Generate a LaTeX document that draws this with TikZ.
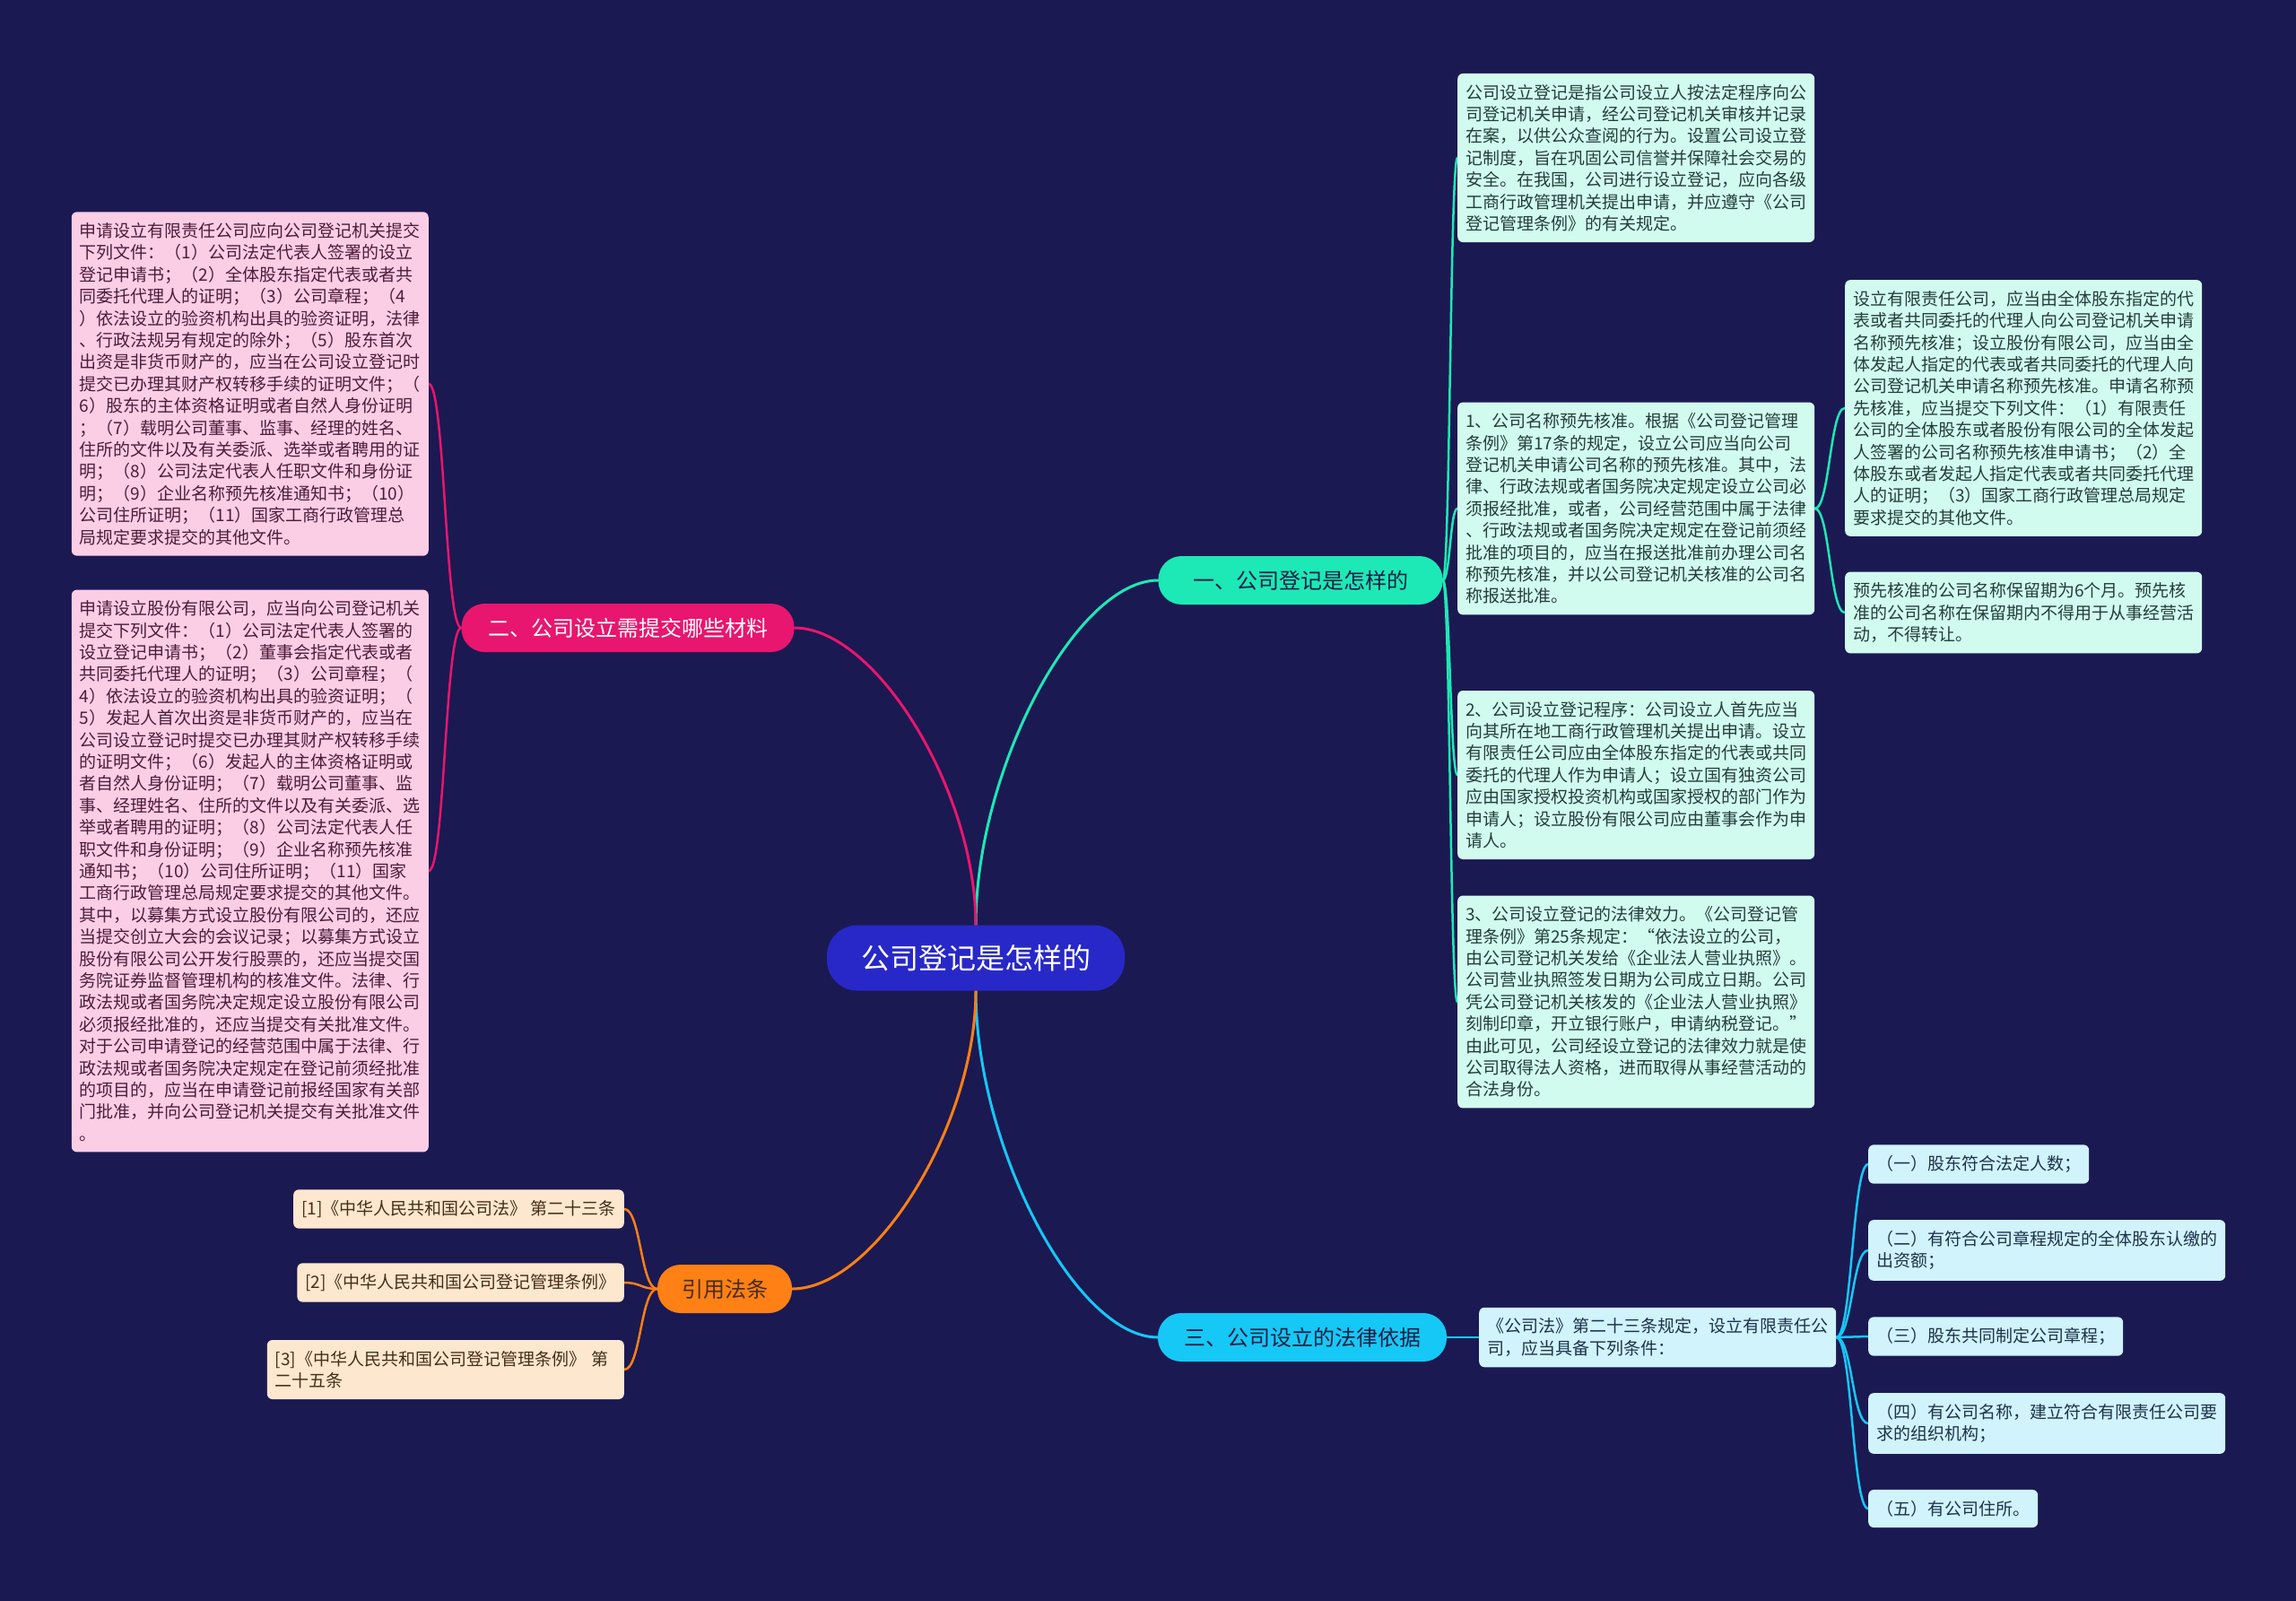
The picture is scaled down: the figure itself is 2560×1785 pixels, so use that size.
\documentclass[tikz,border=0pt]{standalone}
\usepackage{fontspec}
\usetikzlibrary{calc}
\newfontfamily\cjk{Noto Sans CJK SC}

\definecolor{bgnavy}{RGB}{27,25,82}
\definecolor{rootblue}{RGB}{40,40,200}
\definecolor{tealmain}{RGB}{29,233,182}
\definecolor{rosemain}{RGB}{232,22,110}
\definecolor{cyanmain}{RGB}{22,200,245}
\definecolor{orangemain}{RGB}{255,128,20}
\definecolor{tealleaf}{RGB}{210,251,240}
\definecolor{roseleaf}{RGB}{252,206,230}
\definecolor{cyanleaf}{RGB}{208,243,252}
\definecolor{orangeleaf}{RGB}{253,231,207}
\definecolor{tealink}{RGB}{36,62,58}
\definecolor{roseink}{RGB}{78,28,58}
\definecolor{cyanink}{RGB}{30,50,75}
\definecolor{orangeink}{RGB}{72,45,25}
\definecolor{darkink}{RGB}{25,30,70}

\pgfdeclarelayer{bg}
\pgfdeclarelayer{edges}
\pgfsetlayers{bg,edges,main}

\tikzset{
  root/.style={fill=rootblue, text=white, rounded corners=34pt, minimum width=332pt, minimum height=73pt, font=\cjk\fontsize{32}{38}\selectfont},
  topic/.style={rounded corners=26pt, minimum height=54pt, font=\cjk\fontsize{24}{29}\selectfont},
  leaf/.style={rounded corners=6pt, inner xsep=9pt, inner ysep=12pt, align=left, font=\cjk\fontsize{19}{24.4}\selectfont},
  wide/.style={text width=380pt},
  trunk/.style={line width=3pt, line cap=round, to path={let \p1=(\tikztostart), \p2=(\tikztotarget) in .. controls ({\x1},{\y2+0.55*(\y1-\y2)}) and ({\x1+0.55*(\x2-\x1)},{\y2}) .. (\tikztotarget)}},
  twig/.style={line width=2.5pt, line cap=round, to path={let \p1=(\tikztostart), \p2=(\tikztotarget) in .. controls ({(\x1+\x2)/2},{\y1}) and ({(\x1+\x2)/2},{\y2}) .. (\tikztotarget)}}
}

\begin{document}
\begin{tikzpicture}[x=1pt,y=-1pt]
  \begin{pgfonlayer}{bg}
    \fill[bgnavy] (0,0) rectangle (2560,1785);
  \end{pgfonlayer}
  \useasboundingbox (0,0) rectangle (2560,1785);

  % 中心与主题
  \node[root] (root) at (1088,1068) {公司登记是怎样的};
  \node[topic, fill=tealmain, text=darkink, minimum width=317pt] (t1) at (1450,647) {一、公司登记是怎样的};
  \node[topic, fill=rosemain, text=white, minimum width=371pt] (t2) at (700,700) {二、公司设立需提交哪些材料};
  \node[topic, fill=cyanmain, text=darkink, minimum width=322pt] (t3) at (1452,1491) {三、公司设立的法律依据};
  \node[topic, fill=orangemain, text=orangeink, minimum width=150pt] (t4) at (808,1437) {引用法条};

  % 一、公司登记是怎样的
  \node[leaf, wide, fill=tealleaf, text=tealink, anchor=west] (intro) at (1625,176) {公司设立登记是指公司设立人按法定程序向公\\司登记机关申请，经公司登记机关审核并记录\\在案，以供公众查阅的行为。设置公司设立登\\记制度，旨在巩固公司信誉并保障社会交易的\\安全。在我国，公司进行设立登记，应向各级\\工商行政管理机关提出申请，并应遵守《公司\\登记管理条例》的有关规定。};
  \node[leaf, wide, fill=tealleaf, text=tealink, anchor=west] (name) at (1625,567) {1、公司名称预先核准。根据《公司登记管理\\条例》第17条的规定，设立公司应当向公司\\登记机关申请公司名称的预先核准。其中，法\\律、行政法规或者国务院决定规定设立公司必\\须报经批准，或者，公司经营范围中属于法律\\、行政法规或者国务院决定规定在登记前须经\\批准的项目的，应当在报送批准前办理公司名\\称预先核准，并以公司登记机关核准的公司名\\称报送批准。};
  \node[leaf, wide, fill=tealleaf, text=tealink, anchor=west] (nameA) at (2057,455) {设立有限责任公司，应当由全体股东指定的代\\表或者共同委托的代理人向公司登记机关申请\\名称预先核准；设立股份有限公司，应当由全\\体发起人指定的代表或者共同委托的代理人向\\公司登记机关申请名称预先核准。申请名称预\\先核准，应当提交下列文件：（1）有限责任\\公司的全体股东或者股份有限公司的全体发起\\人签署的公司名称预先核准申请书；（2）全\\体股东或者发起人指定代表或者共同委托代理\\人的证明；（3）国家工商行政管理总局规定\\要求提交的其他文件。};
  \node[leaf, wide, fill=tealleaf, text=tealink, anchor=west] (nameB) at (2057,683) {预先核准的公司名称保留期为6个月。预先核\\准的公司名称在保留期内不得用于从事经营活\\动，不得转让。};
  \node[leaf, wide, fill=tealleaf, text=tealink, anchor=west] (proc) at (1625,864) {2、公司设立登记程序：公司设立人首先应当\\向其所在地工商行政管理机关提出申请。设立\\有限责任公司应由全体股东指定的代表或共同\\委托的代理人作为申请人；设立国有独资公司\\应由国家授权投资机构或国家授权的部门作为\\申请人；设立股份有限公司应由董事会作为申\\请人。};
  \node[leaf, wide, fill=tealleaf, text=tealink, anchor=west] (effect) at (1625,1117) {3、公司设立登记的法律效力。《公司登记管\\理条例》第25条规定：“依法设立的公司，\\由公司登记机关发给《企业法人营业执照》。\\公司营业执照签发日期为公司成立日期。公司\\凭公司登记机关核发的《企业法人营业执照》\\刻制印章，开立银行账户，申请纳税登记。”\\由此可见，公司经设立登记的法律效力就是使\\公司取得法人资格，进而取得从事经营活动的\\合法身份。};

  % 二、公司设立需提交哪些材料
  \node[leaf, wide, fill=roseleaf, text=roseink, anchor=east] (llc) at (478,428) {申请设立有限责任公司应向公司登记机关提交\\下列文件：（1）公司法定代表人签署的设立\\登记申请书；（2）全体股东指定代表或者共\\同委托代理人的证明；（3）公司章程；（4\\）依法设立的验资机构出具的验资证明，法律\\、行政法规另有规定的除外；（5）股东首次\\出资是非货币财产的，应当在公司设立登记时\\提交已办理其财产权转移手续的证明文件；（\\6）股东的主体资格证明或者自然人身份证明\\；（7）载明公司董事、监事、经理的姓名、\\住所的文件以及有关委派、选举或者聘用的证\\明；（8）公司法定代表人任职文件和身份证\\明；（9）企业名称预先核准通知书；（10）\\公司住所证明；（11）国家工商行政管理总\\局规定要求提交的其他文件。};
  \node[leaf, wide, fill=roseleaf, text=roseink, anchor=east] (corp) at (478,971) {申请设立股份有限公司，应当向公司登记机关\\提交下列文件：（1）公司法定代表人签署的\\设立登记申请书；（2）董事会指定代表或者\\共同委托代理人的证明；（3）公司章程；（\\4）依法设立的验资机构出具的验资证明；（\\5）发起人首次出资是非货币财产的，应当在\\公司设立登记时提交已办理其财产权转移手续\\的证明文件；（6）发起人的主体资格证明或\\者自然人身份证明；（7）载明公司董事、监\\事、经理姓名、住所的文件以及有关委派、选\\举或者聘用的证明；（8）公司法定代表人任\\职文件和身份证明；（9）企业名称预先核准\\通知书；（10）公司住所证明；（11）国家\\工商行政管理总局规定要求提交的其他文件。\\其中，以募集方式设立股份有限公司的，还应\\当提交创立大会的会议记录；以募集方式设立\\股份有限公司公开发行股票的，还应当提交国\\务院证券监督管理机构的核准文件。法律、行\\政法规或者国务院决定规定设立股份有限公司\\必须报经批准的，还应当提交有关批准文件。\\对于公司申请登记的经营范围中属于法律、行\\政法规或者国务院决定规定在登记前须经批准\\的项目的，应当在申请登记前报经国家有关部\\门批准，并向公司登记机关提交有关批准文件\\。};

  % 三、公司设立的法律依据
  \node[leaf, wide, fill=cyanleaf, text=cyanink, anchor=west] (law) at (1649,1491) {《公司法》第二十三条规定，设立有限责任公\\司，应当具备下列条件：};
  \node[leaf, fill=cyanleaf, text=cyanink, anchor=west] (c1) at (2083,1298) {（一）股东符合法定人数；};
  \node[leaf, fill=cyanleaf, text=cyanink, anchor=west] (c2) at (2083,1394) {（二）有符合公司章程规定的全体股东认缴的\\出资额；};
  \node[leaf, fill=cyanleaf, text=cyanink, anchor=west] (c3) at (2083,1490) {（三）股东共同制定公司章程；};
  \node[leaf, fill=cyanleaf, text=cyanink, anchor=west] (c4) at (2083,1587) {（四）有公司名称，建立符合有限责任公司要\\求的组织机构；};
  \node[leaf, fill=cyanleaf, text=cyanink, anchor=west] (c5) at (2083,1682) {（五）有公司住所。};

  % 引用法条
  \node[leaf, fill=orangeleaf, text=orangeink, anchor=east] (r1) at (696,1348) {[1]《中华人民共和国公司法》 第二十三条};
  \node[leaf, fill=orangeleaf, text=orangeink, anchor=east] (r2) at (696,1430) {[2]《中华人民共和国公司登记管理条例》};
  \node[leaf, wide, fill=orangeleaf, text=orangeink, anchor=east] (r3) at (696,1527) {[3]《中华人民共和国公司登记管理条例》 第\\二十五条};

  % 连线
  \begin{pgfonlayer}{edges}
    \draw[trunk, tealmain] (root.north) to (t1.west);
    \draw[trunk, rosemain] (root.north) to (t2.east);
    \draw[trunk, cyanmain] (root.south) to (t3.west);
    \draw[trunk, orangemain] (root.south) to (t4.east);
    \foreach \k in {intro,name,proc,effect}
      \draw[twig, tealmain] (t1.east) to (\k.west);
    \foreach \k in {nameA,nameB}
      \draw[twig, tealmain] (name.east) to (\k.west);
    \foreach \k in {llc,corp}
      \draw[twig, rosemain] (t2.west) to (\k.east);
    \draw[twig, cyanmain] (t3.east) to (law.west);
    \foreach \k in {c1,c2,c3,c4,c5}
      \draw[twig, cyanmain] (law.east) to (\k.west);
    \foreach \k in {r1,r2,r3}
      \draw[twig, orangemain] (t4.west) to (\k.east);
  \end{pgfonlayer}
\end{tikzpicture}
\end{document}
